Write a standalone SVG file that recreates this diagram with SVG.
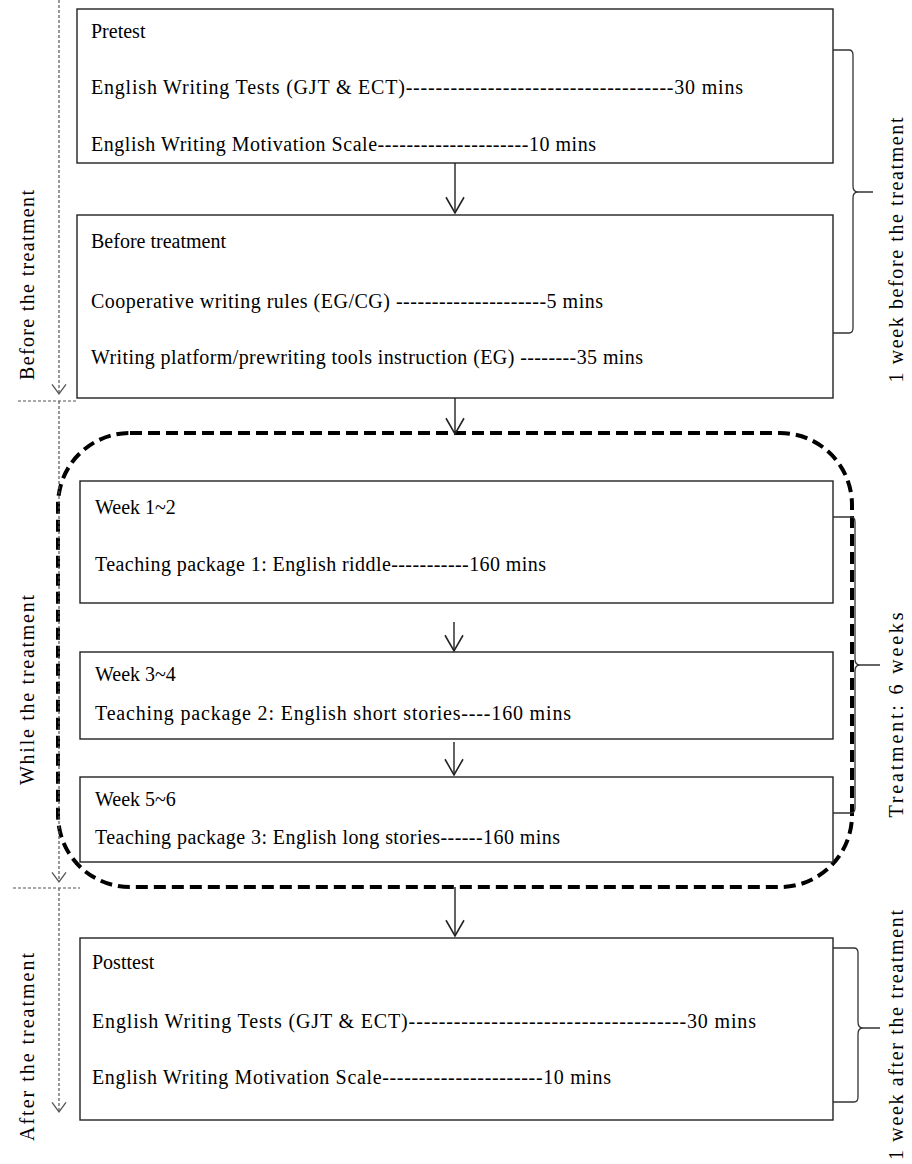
<svg xmlns="http://www.w3.org/2000/svg" width="912" height="1164" viewBox="0 0 912 1164">
<style>
  .box{fill:#fff;stroke:#222;stroke-width:1.4}
  .t{font-family:"Liberation Serif","Times New Roman",serif;font-size:20px;fill:#000}
  .conn{stroke:#222;stroke-width:1.4;fill:none}
  .dot{stroke:#555;stroke-width:1.2;stroke-dasharray:3 2;fill:none}
  .brace{stroke:#333;stroke-width:1.3;fill:none}
  .frame{stroke:#000;stroke-width:4;stroke-dasharray:12 6;fill:none}
</style>
<defs>
  <marker id="ah" markerUnits="userSpaceOnUse" markerWidth="16" markerHeight="18" viewBox="0 0 14 16" refX="14" refY="8" orient="auto" overflow="visible">
    <path d="M0,0 L14,8 L0,16" fill="none" stroke="#222" stroke-width="1.4"/>
  </marker>
  <marker id="ahs" markerUnits="userSpaceOnUse" markerWidth="10" markerHeight="14" viewBox="0 0 9 13" refX="9" refY="6.5" orient="auto" overflow="visible">
    <path d="M0,0 L9,6.5 L0,13" fill="none" stroke="#555" stroke-width="1.2"/>
  </marker>
</defs>
<rect width="912" height="1164" fill="#fff"/>

<g id="treatment-frame">
  <rect class="frame" x="58" y="433" width="794" height="454" rx="72" ry="72"/>
</g>

<g id="pretest">
  <rect class="box" x="77" y="9" width="756" height="154"/>
  <text class="t" x="91" y="38">Pretest</text>
  <text class="t" x="91" y="94" textLength="652" lengthAdjust="spacing">English Writing Tests (GJT &amp; ECT)------------------------------------30 mins</text>
  <text class="t" x="91" y="151" textLength="505" lengthAdjust="spacing">English Writing Motivation Scale---------------------10 mins</text>
</g>

<g id="before-treatment">
  <rect class="box" x="77" y="215" width="756" height="183"/>
  <text class="t" x="91" y="248">Before treatment</text>
  <text class="t" x="91" y="308" textLength="512" lengthAdjust="spacing">Cooperative writing rules (EG/CG) ---------------------5 mins</text>
  <text class="t" x="91" y="364" textLength="552" lengthAdjust="spacing">Writing platform/prewriting tools instruction (EG) --------35 mins</text>
</g>

<g id="week1-2">
  <rect class="box" x="80" y="481" width="753" height="122"/>
  <text class="t" x="95" y="514">Week 1~2</text>
  <text class="t" x="95" y="571" textLength="451" lengthAdjust="spacing">Teaching package 1: English riddle-----------160 mins</text>
</g>

<g id="week3-4">
  <rect class="box" x="80" y="652" width="753" height="87"/>
  <text class="t" x="95" y="681">Week 3~4</text>
  <text class="t" x="95" y="720" textLength="476" lengthAdjust="spacing">Teaching package 2: English short stories----160 mins</text>
</g>

<g id="week5-6">
  <rect class="box" x="80" y="777" width="753" height="85"/>
  <text class="t" x="95" y="806">Week 5~6</text>
  <text class="t" x="95" y="844" textLength="465" lengthAdjust="spacing">Teaching package 3: English long stories------160 mins</text>
</g>

<g id="posttest">
  <rect class="box" x="80" y="938" width="753" height="182"/>
  <text class="t" x="92" y="969">Posttest</text>
  <text class="t" x="92" y="1028" textLength="664" lengthAdjust="spacing">English Writing Tests (GJT &amp; ECT)-------------------------------------30 mins</text>
  <text class="t" x="92" y="1084" textLength="519" lengthAdjust="spacing">English Writing Motivation Scale----------------------10 mins</text>
</g>

<g id="phase-labels">
  <text class="t" transform="translate(34,285) rotate(-90)" text-anchor="middle" textLength="190" lengthAdjust="spacing">Before the treatment</text>
  <text class="t" transform="translate(34,690) rotate(-90)" text-anchor="middle" textLength="190" lengthAdjust="spacing">While the treatment</text>
  <text class="t" transform="translate(34,1047) rotate(-90)" text-anchor="middle" textLength="188" lengthAdjust="spacing">After the treatment</text>
  <text class="t" transform="translate(903,250) rotate(-90)" text-anchor="middle" textLength="265" lengthAdjust="spacing">1 week before the treatment</text>
  <text class="t" transform="translate(903,715) rotate(-90)" text-anchor="middle" textLength="205" lengthAdjust="spacing">Treatment:  6 weeks</text>
  <text class="t" transform="translate(903,1035) rotate(-90)" text-anchor="middle" textLength="250" lengthAdjust="spacing">1 week after the treatment</text>
</g>

<g id="connectors">
  <line class="conn" x1="455" y1="163" x2="455" y2="213" marker-end="url(#ah)"/>
  <line class="conn" x1="455" y1="398" x2="455" y2="434" marker-end="url(#ah)"/>
  <line class="conn" x1="454" y1="622" x2="454" y2="651" marker-end="url(#ah)"/>
  <line class="conn" x1="454" y1="742" x2="454" y2="775" marker-end="url(#ah)"/>
  <line class="conn" x1="455" y1="887" x2="455" y2="936" marker-end="url(#ah)"/>

  <line class="dot" x1="59" y1="0" x2="59" y2="394" marker-end="url(#ahs)"/>
  <line class="dot" x1="18" y1="401" x2="78" y2="401"/>
  <line class="dot" x1="59" y1="401" x2="59" y2="882" marker-end="url(#ahs)"/>
  <line class="dot" x1="13" y1="888" x2="80" y2="888"/>
  <line class="dot" x1="59" y1="888" x2="59" y2="1112" marker-end="url(#ahs)"/>

  <path class="brace" d="M833,50 H849 Q853,50 853,55 V186 Q853,192 858,192 Q853,192 853,198 V328 Q853,333 849,333 H833 M858,192 H873"/>
  <path class="brace" d="M833,517 H851 Q855,517 855,522 V659 Q855,665 860,665 Q855,665 855,671 V808 Q855,813 851,813 H833 M860,665 H880"/>
  <path class="brace" d="M833,948 H854 Q858,948 858,953 V1022 Q858,1028 863,1028 Q858,1028 858,1034 V1097 Q858,1102 854,1102 H833 M863,1028 H880"/>
</g>
</svg>
